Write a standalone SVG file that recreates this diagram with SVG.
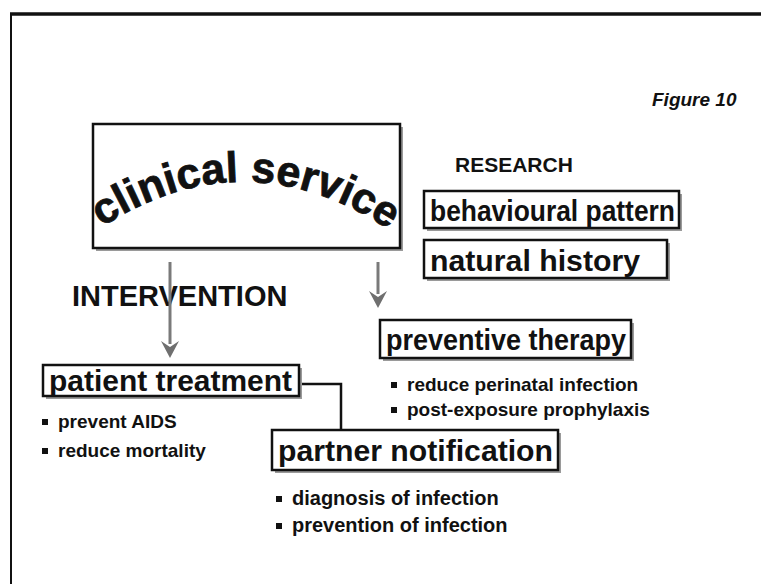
<svg xmlns="http://www.w3.org/2000/svg" width="761" height="584" viewBox="0 0 761 584">
  <style>
    text { font-family: "Liberation Sans", Arial, Helvetica, sans-serif; font-weight: bold; fill: #111; }
    .box { fill: #fff; stroke: #111; stroke-width: 2.5; }
    .shadow { fill: #9a9a9a; }
    .label { font-size: 30px; }
    .item { font-size: 20px; }
    .head { font-size: 21px; }
    .arrow { stroke: #7a7a7a; stroke-width: 3; fill: none; }
    .tip { fill: #6f6f6f; }
    .link { stroke: #111; stroke-width: 2.5; fill: none; }
    .dot { fill: #111; }
  </style>
  <defs>
    <path id="arc" d="M 100,228 Q 250,132 398,236"/>
  </defs>

  <rect width="761" height="584" fill="#fff"/>

  <!-- page frame: top and left rules only -->
  <path d="M 10,14 H 761" stroke="#111" stroke-width="3.5" fill="none"/>
  <path d="M 11,13 V 584" stroke="#111" stroke-width="2" fill="none"/>

  <text x="652" y="106" font-size="19" font-style="italic">Figure 10</text>
  <text x="455" y="172" class="head">RESEARCH</text>
  <text x="72" y="306" font-size="29">INTERVENTION</text>

  <g id="connectors">
    <line class="arrow" x1="170" y1="262" x2="170" y2="344"/>
    <path class="tip" d="M161,341 L170,347 L179,341 L170,358 Z"/>
    <line class="arrow" x1="378" y1="262" x2="378" y2="294"/>
    <path class="tip" d="M369,291 L378,297 L387,291 L378,308 Z"/>
    <path class="link" d="M 299,384 H 341 V 430"/>
  </g>

  <g id="clinical-service">
    <rect class="shadow" x="96" y="127" width="307" height="124"/>
    <rect class="box" x="93" y="124" width="307" height="124"/>
    <text font-size="43" stroke="#111" stroke-width="0.8"><textPath href="#arc" startOffset="2">clinical service</textPath></text>
  </g>

  <g id="behavioural-pattern">
    <rect class="shadow" x="427" y="194" width="255" height="37"/>
    <rect class="box" x="424" y="191" width="255" height="37"/>
    <text x="430" y="221" class="label" textLength="245" lengthAdjust="spacingAndGlyphs">behavioural pattern</text>
  </g>

  <g id="natural-history">
    <rect class="shadow" x="427" y="243" width="243" height="38"/>
    <rect class="box" x="424" y="240" width="243" height="38"/>
    <text x="430" y="271" class="label" textLength="210" lengthAdjust="spacingAndGlyphs">natural history</text>
  </g>

  <g id="preventive-therapy">
    <rect class="shadow" x="383" y="323" width="251" height="38"/>
    <rect class="box" x="380" y="320" width="251" height="38"/>
    <text x="386" y="350" class="label" textLength="240" lengthAdjust="spacingAndGlyphs">preventive therapy</text>
    <rect class="dot" x="391" y="382" width="6" height="6"/>
    <text x="407" y="391" font-size="19">reduce perinatal infection</text>
    <rect class="dot" x="391" y="407" width="6" height="6"/>
    <text x="407" y="416" font-size="19">post-exposure prophylaxis</text>
  </g>

  <g id="patient-treatment">
    <rect class="shadow" x="46" y="368" width="256" height="31"/>
    <rect class="box" x="43" y="365" width="256" height="31"/>
    <text x="49" y="391" class="label" textLength="243" lengthAdjust="spacingAndGlyphs">patient treatment</text>
    <rect class="dot" x="42" y="419" width="6" height="6"/>
    <text x="58" y="428" font-size="19">prevent AIDS</text>
    <rect class="dot" x="42" y="448" width="6" height="6"/>
    <text x="58" y="457" font-size="19">reduce mortality</text>
  </g>

  <g id="partner-notification">
    <rect class="shadow" x="275" y="433" width="286" height="40"/>
    <rect class="box" x="272" y="430" width="286" height="40"/>
    <text x="278" y="461" class="label" textLength="275" lengthAdjust="spacingAndGlyphs">partner notification</text>
    <rect class="dot" x="276" y="496" width="6" height="6"/>
    <text x="292" y="505" class="item">diagnosis of infection</text>
    <rect class="dot" x="276" y="523" width="6" height="6"/>
    <text x="292" y="532" class="item">prevention of infection</text>
  </g>
</svg>
